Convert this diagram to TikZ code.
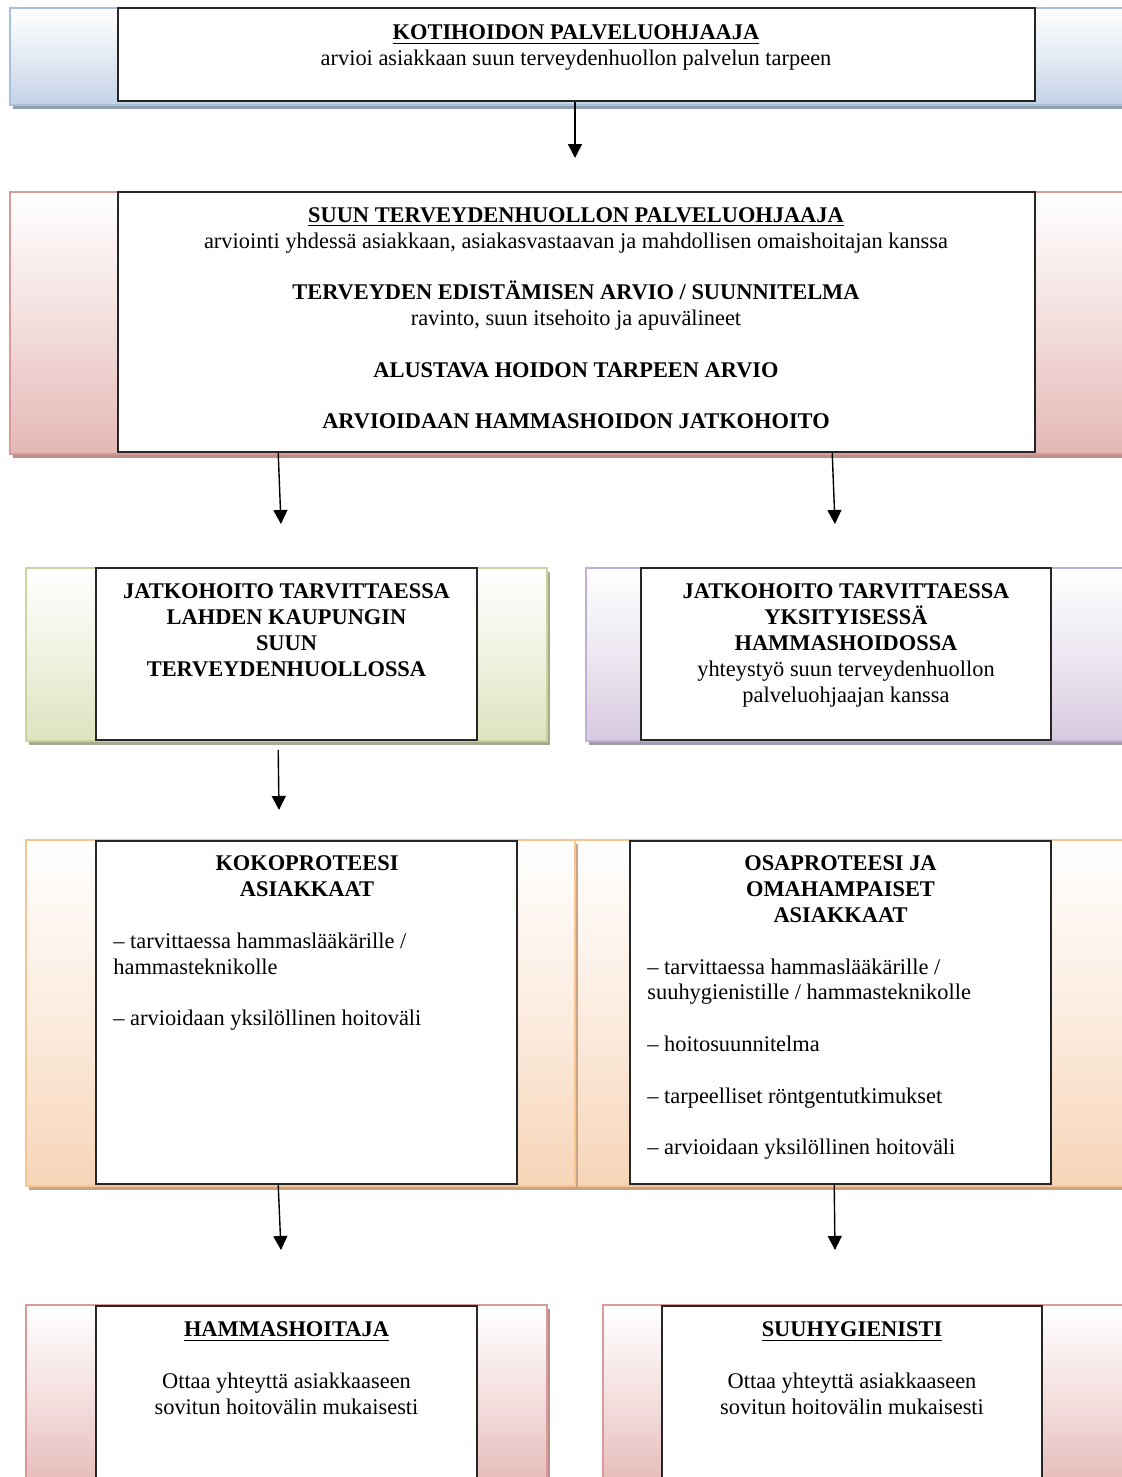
\documentclass[tikz,border=0pt]{standalone}
\usepackage{fontspec}
\setmainfont{Liberation Serif}
\usetikzlibrary{fit,arrows.meta,calc}
\definecolor{bluebd}{HTML}{A7BFDE}\definecolor{bluebg}{HTML}{C4D3E6}\definecolor{bluesh}{HTML}{8FA0B0}
\definecolor{pinkbd}{HTML}{DA9A98}\definecolor{pinkbg}{HTML}{E4B7B5}\definecolor{pinksh}{HTML}{B8908E}
\definecolor{greenbd}{HTML}{C8D59E}\definecolor{greenbg}{HTML}{DCE3BE}\definecolor{greensh}{HTML}{A5AB8C}
\definecolor{purplebd}{HTML}{BEAFD3}\definecolor{purplebg}{HTML}{D6CADF}\definecolor{purplesh}{HTML}{A39BAC}
\definecolor{orangebd}{HTML}{F6C591}\definecolor{orangebg}{HTML}{F7D5B8}\definecolor{orangesh}{HTML}{C9A486}
\newcommand\bandbox[6]{%
  \fill[#6sh] ({#2+3},{#3+4}) rectangle ({#4+3},{#5+4});
  \node[band, draw=#6bd, top color=white, bottom color=#6bg, middle color=#6bg!45!white, fit={(#2,#3) (#4,#5)}] (#1) {};
}
\newcommand\tightlines{\lineskiplimit=-20pt\relax\lineskip=0pt\relax}
\begin{document}
\begin{tikzpicture}[x=0.5pt,y=-0.5pt,
  band/.style={inner sep=0pt, line width=1pt},
  inbox/.style={draw=black!85, line width=0.8pt, fill=white, inner sep=0pt},
  txt/.style={inner sep=0pt, font=\fontsize{11.2}{12.9}\selectfont\tightlines, align=center, anchor=north},
  ltxt/.style={txt, align=left, anchor=north west},
  arr/.style={-{Triangle[length=7pt,width=7pt]}, line width=0.7pt}]
\useasboundingbox (0,0) rectangle (1122,1477);
\clip (0,0) rectangle (1122,1477);
% bands
\bandbox{b1}{10}{8}{1130}{105}{blue}
\bandbox{b2}{10}{192}{1130}{454}{pink}
\bandbox{b3a}{26}{568}{547}{741}{green}
\bandbox{b3b}{586}{568}{1130}{741}{purple}
\bandbox{b4b}{575}{840}{1130}{1186}{orange}
\bandbox{b4a}{26}{840}{575}{1186}{orange}
\bandbox{b5a}{26}{1305}{547}{1495}{pink}
\bandbox{b5b}{603}{1305}{1130}{1495}{pink}
% inner boxes
\node[inbox, fit={(118,8) (1035,101)}] (k1) {};
\node[inbox, fit={(118,192) (1035,452)}] (k2) {};
\node[inbox, fit={(96,568) (477,740)}] (k3a) {};
\node[inbox, fit={(641,568) (1051,740)}] (k3b) {};
\node[inbox, fit={(96,841) (517,1184)}] (k4a) {};
\node[inbox, fit={(630,841) (1051,1184)}] (k4b) {};
\node[inbox, fit={(96,1306) (477,1495)}] (k5a) {};
\node[inbox, fit={(662,1306) (1042,1495)}] (k5b) {};
% texts
\node[txt] (t1) at (576,21.5) {\strut\textbf{\underline{KOTIHOIDON PALVELUOHJAAJA}}\\arvioi asiakkaan suun terveydenhuollon palvelun tarpeen};
\node[txt] (t2) at (576,204) {\strut\textbf{\underline{SUUN TERVEYDENHUOLLON PALVELUOHJAAJA}}\\
  arviointi yhdessä asiakkaan, asiakasvastaavan ja mahdollisen omaishoitajan kanssa\\[12.9pt]
  \textbf{TERVEYDEN EDISTÄMISEN ARVIO / SUUNNITELMA}\\
  ravinto, suun itsehoito ja apuvälineet\\[12.9pt]
  \textbf{ALUSTAVA HOIDON TARPEEN ARVIO}\\[12.9pt]
  \textbf{ARVIOIDAAN HAMMASHOIDON JATKOHOITO}};
\node[txt] (t3a) at (286.5,580.5) {\strut\textbf{JATKOHOITO TARVITTAESSA}\\\textbf{LAHDEN KAUPUNGIN}\\\textbf{SUUN}\\\textbf{TERVEYDENHUOLLOSSA}};
\node[txt] (t3b) at (846,580.5) {\strut\textbf{JATKOHOITO TARVITTAESSA}\\\textbf{YKSITYISESSÄ}\\\textbf{HAMMASHOIDOSSA}\\yhteystyö suun terveydenhuollon\\palveluohjaajan kanssa};
\node[txt] (h4a) at (307,852.5) {\strut\textbf{KOKOPROTEESI}\\\textbf{ASIAKKAAT}};
\node[ltxt] (l4a) at (113,930) {\strut– tarvittaessa hammaslääkärille /\\hammasteknikolle\\[12.9pt]– arvioidaan yksilöllinen hoitoväli};
\node[txt] (h4b) at (840.5,852.5) {\strut\textbf{OSAPROTEESI JA}\\\textbf{OMAHAMPAISET}\\\textbf{ASIAKKAAT}};
\node[ltxt] (l4b) at (647,955.7) {\strut– tarvittaessa hammaslääkärille /\\suuhygienistille / hammasteknikolle\\[12.9pt]– hoitosuunnitelma\\[12.9pt]– tarpeelliset röntgentutkimukset\\[12.9pt]– arvioidaan yksilöllinen hoitoväli};
\node[txt] (t5a) at (286.5,1318.5) {\strut\textbf{\underline{HAMMASHOITAJA}}\\[12.9pt]Ottaa yhteyttä asiakkaaseen\\sovitun hoitovälin mukaisesti};
\node[txt] (t5b) at (852,1318.5) {\strut\textbf{\underline{SUUHYGIENISTI}}\\[12.9pt]Ottaa yhteyttä asiakkaaseen\\sovitun hoitovälin mukaisesti};
% arrow ends
\coordinate (e1) at (575,158);
\coordinate (e2a) at (281,524);
\coordinate (e2b) at (835,524);
\coordinate (e3) at (279,810);
\coordinate (e4a) at (281,1250);
\coordinate (e4b) at (835,1250);
\draw[arr] (k1.south -| e1) -- (e1);
\draw[arr] ([xshift=80.5pt]k2.south west) -- (e2a);
\draw[arr] ([xshift=357.5pt]k2.south west) -- (e2b);
\draw[arr] ([xshift=91.5pt,yshift=-4.5pt]k3a.south west) -- (e3);
\draw[arr] ([xshift=91.5pt]k4a.south west) -- (e4a);
\draw[arr] ([xshift=102.5pt]k4b.south west) -- (e4b);
\end{tikzpicture}
\end{document}
